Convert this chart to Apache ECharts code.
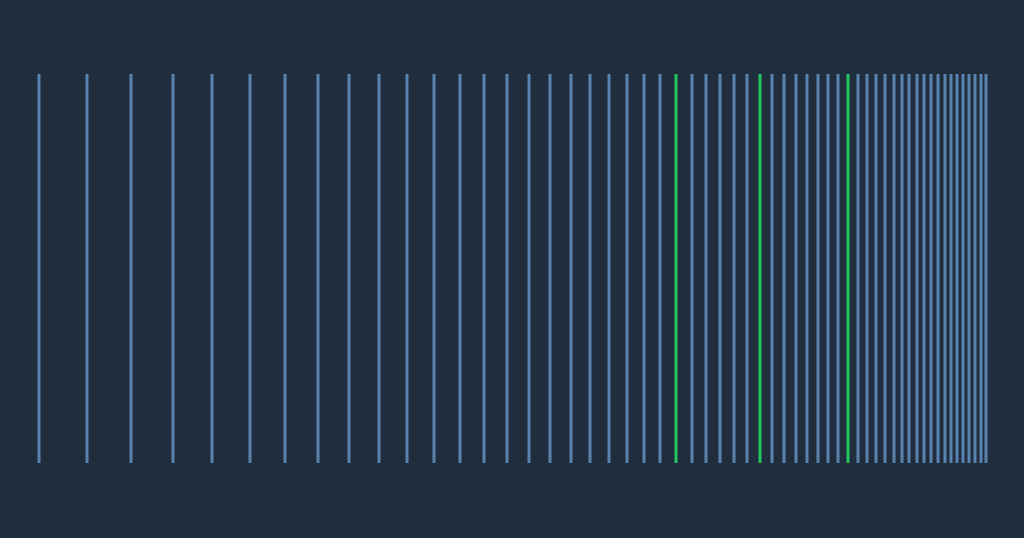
<!DOCTYPE html>
<html>
<head>
<meta charset="utf-8">
<script src="https://cdn.jsdelivr.net/npm/echarts@6/dist/echarts.min.js"></script>
<style>
html,body{margin:0;padding:0;background:#1f2d3d;}
#main{width:1024px;height:538px;}
</style>
</head>
<body>
<div id="main"></div>
<script>
// Positions of each vertical mark
const positions = [0, 48, 92, 134, 173, 211, 246, 279, 310, 340, 368, 395, 421, 445, 468, 490, 511, 532, 551, 570, 588, 605, 621,
  637, 653, 667, 681, 695, 708, 721, 733, 745, 757, 768, 779, 789, 799, 809,
  819, 828, 837, 846, 855, 863, 870, 878, 885, 892, 899, 906, 912, 918, 924, 930, 936, 942, 947];
// Marks highlighted in green
const highlighted = [637, 721, 809];

const chart = echarts.init(document.getElementById('main'));
const data = positions.map(v => [v, highlighted.indexOf(v) >= 0 ? 1 : 0]);

chart.setOption({
  backgroundColor: '#1f2d3d',
  animation: false,
  grid: {left: 39, right: 38, top: 74, bottom: 75},
  xAxis: {type: 'value', min: 0, max: 947, show: false},
  yAxis: {type: 'value', min: 0, max: 1, show: false},
  series: [{
    type: 'custom',
    data: data,
    renderItem: function (params, api) {
      const v = api.value(0);
      const hl = api.value(1) === 1;
      const top = api.coord([v, 1]);
      const bot = api.coord([v, 0]);
      return {
        type: 'rect',
        shape: {x: top[0] - 1.5, y: top[1], width: 3, height: bot[1] - top[1]},
        style: {fill: hl ? '#22c55e' : '#5a84b0'}
      };
    }
  }]
});
</script>
</body>
</html>
